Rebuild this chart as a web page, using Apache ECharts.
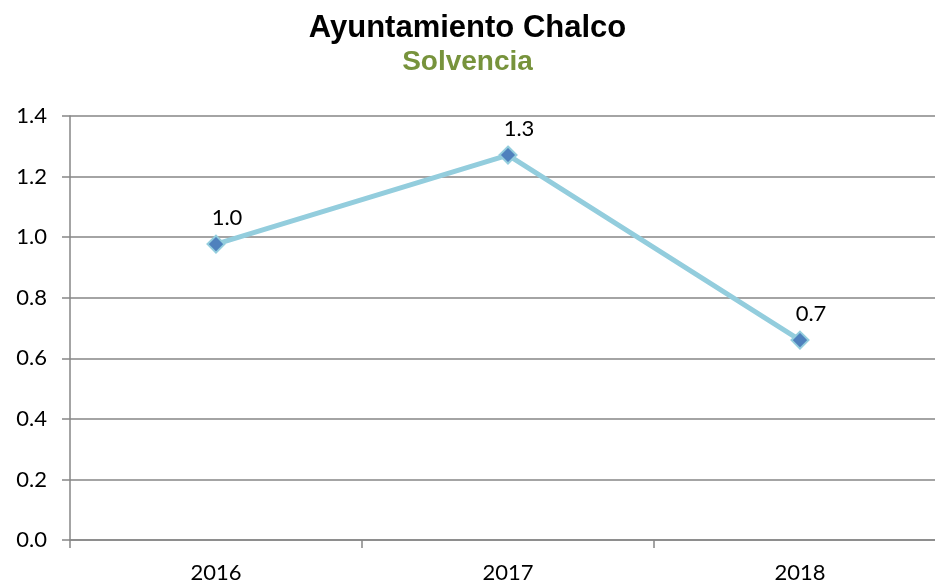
<!DOCTYPE html>
<html>
<head>
<meta charset="utf-8">
<script src="https://cdn.jsdelivr.net/npm/echarts@6/dist/echarts.min.js"></script>
<style>
  html, body { margin: 0; padding: 0; background: #fff; }
  #chart { width: 935px; height: 588px; }
</style>
</head>
<body>
<div id="chart"></div>
<script>
// data
const years = ["2016", "2017", "2018"];
const solvencia = [0.977, 1.271, 0.66];
const pointLabels = ["1.0", "1.3", "0.7"];

const labelFont = "Lato, 'Open Sans', sans-serif";

const chart = echarts.init(document.getElementById("chart"));

chart.setOption({
  backgroundColor: "#ffffff",
  animation: false,
  title: {
    text: "Ayuntamiento Chalco",
    subtext: "Solvencia",
    left: "center",
    top: 8,
    itemGap: 4,
    textStyle: {
      fontFamily: "'Liberation Sans', Arial, sans-serif",
      fontWeight: "bold",
      fontSize: 31,
      color: "#000000",
    },
    subtextStyle: {
      fontFamily: "'Liberation Sans', Arial, sans-serif",
      fontWeight: "bold",
      fontSize: 28,
      color: "#77933C",
    },
  },
  // plot is wider than the canvas, the right side is cut off
  grid: {
    left: 70,
    width: 876,
    top: 116,
    bottom: 48,
    outerBoundsMode: "none",
    containLabel: false,
  },
  xAxis: {
    type: "category",
    data: years,
    boundaryGap: true,
    axisLine: { lineStyle: { color: "#868686", width: 1.5 } },
    axisTick: { show: true, length: 8, lineStyle: { color: "#868686", width: 1.5 } },
    axisLabel: {
      fontFamily: labelFont,
      fontSize: 22,
      color: "#000000",
      margin: 22,
    },
    splitLine: { show: false },
  },
  yAxis: {
    type: "value",
    min: 0,
    max: 1.4,
    interval: 0.2,
    axisLine: { show: true, lineStyle: { color: "#868686", width: 1.5 } },
    axisTick: { show: true, length: 8, lineStyle: { color: "#868686", width: 1.5 } },
    axisLabel: {
      fontFamily: labelFont,
      fontSize: 22,
      color: "#000000",
      margin: 23,
      formatter: (v) => v.toFixed(1),
    },
    splitLine: { show: true, lineStyle: { color: "#868686", width: 1.5 } },
  },
  series: [
    {
      type: "line",
      data: solvencia,
      symbol: "diamond",
      symbolSize: 17,
      lineStyle: { color: "#93CDDD", width: 5 },
      itemStyle: { color: "#4F81BD", borderColor: "#93CDDD", borderWidth: 2 },
      label: {
        show: true,
        position: "top",
        distance: 6,
        offset: [11, 0],
        fontFamily: labelFont,
        fontSize: 22,
        color: "#000000",
        formatter: (p) => pointLabels[p.dataIndex],
      },
    },
  ],
});
</script>
</body>
</html>
